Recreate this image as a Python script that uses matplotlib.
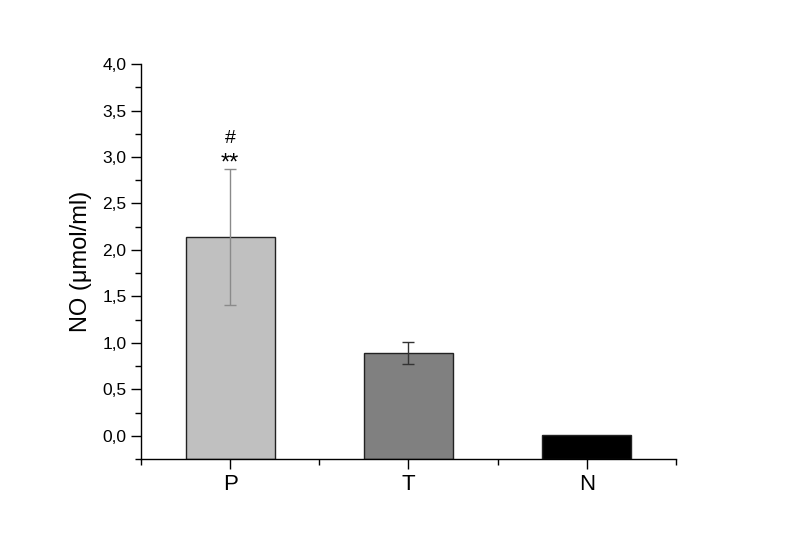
import matplotlib
matplotlib.use('Agg')
import matplotlib.pyplot as plt
from matplotlib.ticker import FuncFormatter, MultipleLocator, FixedLocator

# data
groups = ['P', 'T', 'N']
values = [2.14, 0.89, 0.005]
errors = [0.73, 0.12, 0.0]
colors = ['#c0c0c0', '#808080', '#000000']
err_colors = ['#8a8a8a', '#333333', '#000000']
marks = ['**', '', '']
marks2 = ['#', '', '']

plt.rcParams['font.family'] = ['Liberation Sans', 'DejaVu Sans']

fig = plt.figure(figsize=(7.85, 5.5), dpi=100)
ax = fig.add_axes([0.1796, 0.1655, 0.6815, 0.718])

ymin = -0.25
x = [1, 2, 3]
for i in range(len(groups)):
    ax.bar(x[i], values[i] - ymin, bottom=ymin, width=0.5, color=colors[i],
           edgecolor='#222222', linewidth=1.0, zorder=2)
    if errors[i] > 0:
        ax.errorbar(x[i], values[i], yerr=errors[i], fmt='none', ecolor=err_colors[i],
                    elinewidth=1.0, capsize=4, capthick=1.0, zorder=3)
    if marks[i]:
        ax.text(x[i], values[i] + errors[i] + 0.06, marks[i], ha='center', va='center',
                fontsize=17)
        ax.text(x[i], values[i] + errors[i] + 0.33, marks2[i], ha='center', va='center',
                fontsize=14)

ax.set_xlim(0.5, 3.5)
ax.set_ylim(ymin, 4.0)
ax.spines['top'].set_visible(False)
ax.spines['right'].set_visible(False)
for s in ['left', 'bottom']:
    ax.spines[s].set_linewidth(1.0)

ax.set_xticks(x)
ax.set_xticklabels(groups, fontsize=16)
ax.xaxis.set_minor_locator(FixedLocator([0.5, 1.5, 2.5, 3.5]))
ax.yaxis.set_major_locator(MultipleLocator(0.5))
ax.yaxis.set_minor_locator(MultipleLocator(0.25))
ax.yaxis.set_major_formatter(FuncFormatter(lambda v, p: ('%.1f' % v).replace('.', ',')))
ax.tick_params(axis='both', which='major', direction='out', length=7, width=1.0)
ax.tick_params(axis='both', which='minor', direction='out', length=4, width=1.0)
ax.tick_params(axis='y', labelsize=12.5)
ax.set_ylabel('NO (\u03bcmol/ml)', fontsize=17, labelpad=7)

fig.savefig('out.png', dpi=100)
